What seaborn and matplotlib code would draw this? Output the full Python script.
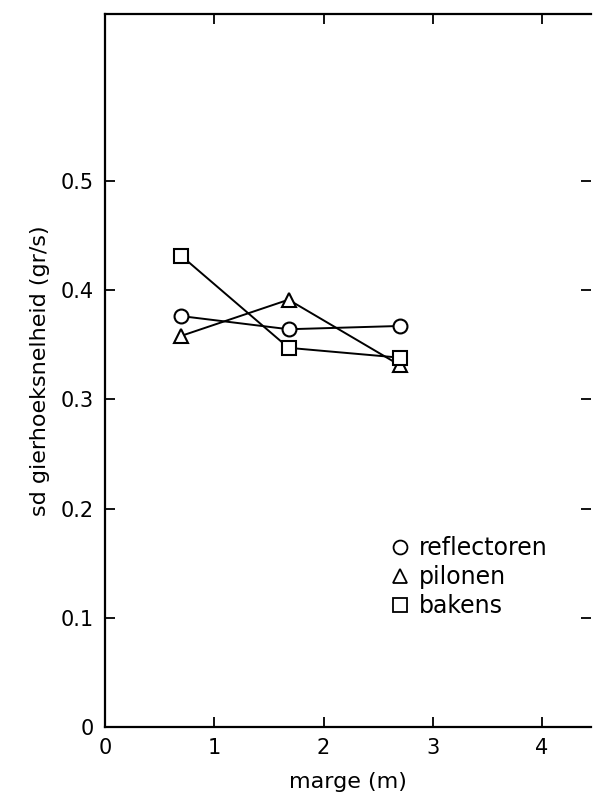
import pandas as pd
import matplotlib
matplotlib.use("Agg")
import matplotlib.pyplot as plt
from matplotlib.lines import Line2D
import seaborn as sns

# data
marge = [0.70, 1.68, 2.70]
reflectoren = [0.376, 0.364, 0.367]
pilonen = [0.358, 0.391, 0.331]
bakens = [0.431, 0.347, 0.338]

series = ['reflectoren', 'pilonen', 'bakens']
markers = {'reflectoren': 'o', 'pilonen': '^', 'bakens': 's'}
x_ticks = [0, 1, 2, 3, 4]
y_ticks = [0, 0.1, 0.2, 0.3, 0.4, 0.5]
y_ticklabels = ['0', '0.1', '0.2', '0.3', '0.4', '0.5']

df = pd.DataFrame({
    'marge': marge * 3,
    'sd': reflectoren + pilonen + bakens,
    'soort': [s for s in series for _ in marge],
})

sns.set_style('ticks')
plt.rcParams['font.family'] = ['DejaVu Sans']
plt.rcParams['text.color'] = 'black'
plt.rcParams['axes.labelcolor'] = 'black'

fig = plt.figure(figsize=(5.93, 7.94), dpi=100)
ax = fig.add_axes([0.177, 0.084, 0.82, 0.898])

sns.lineplot(data=df, x='marge', y='sd', style='soort', markers=markers,
             dashes=False, color='black', linewidth=1.4, markersize=10,
             markerfacecolor='white', markeredgecolor='black',
             markeredgewidth=1.5, legend=False, ax=ax)

ax.set_xlim(0, 4.45)
ax.set_ylim(0, 0.652)
ax.set_xticks(x_ticks)
ax.set_yticks(y_ticks)
ax.set_yticklabels(y_ticklabels)
ax.tick_params(direction='in', length=7, width=1.3, labelsize=15,
               top=True, right=True, pad=8, colors='black')
for side in ['left', 'bottom', 'top']:
    ax.spines[side].set_linewidth(1.6)
    ax.spines[side].set_color('black')
ax.spines['right'].set_visible(False)

ax.set_xlabel('marge (m)', fontsize=16, labelpad=10)
ax.set_ylabel('sd gierhoeksnelheid (gr/s)', fontsize=16, labelpad=8)

handles = [Line2D([], [], linestyle='none', marker=markers[s], markersize=10,
                  markerfacecolor='white', markeredgecolor='black',
                  markeredgewidth=1.3, label=s) for s in series]
ax.legend(handles=handles, loc='upper left', bbox_to_anchor=(0.568, 0.281),
          frameon=False, fontsize=17, handlelength=0.8, handletextpad=0.4,
          labelspacing=0.2, borderaxespad=0, labelcolor='black')

fig.savefig('out.png', dpi=100)
